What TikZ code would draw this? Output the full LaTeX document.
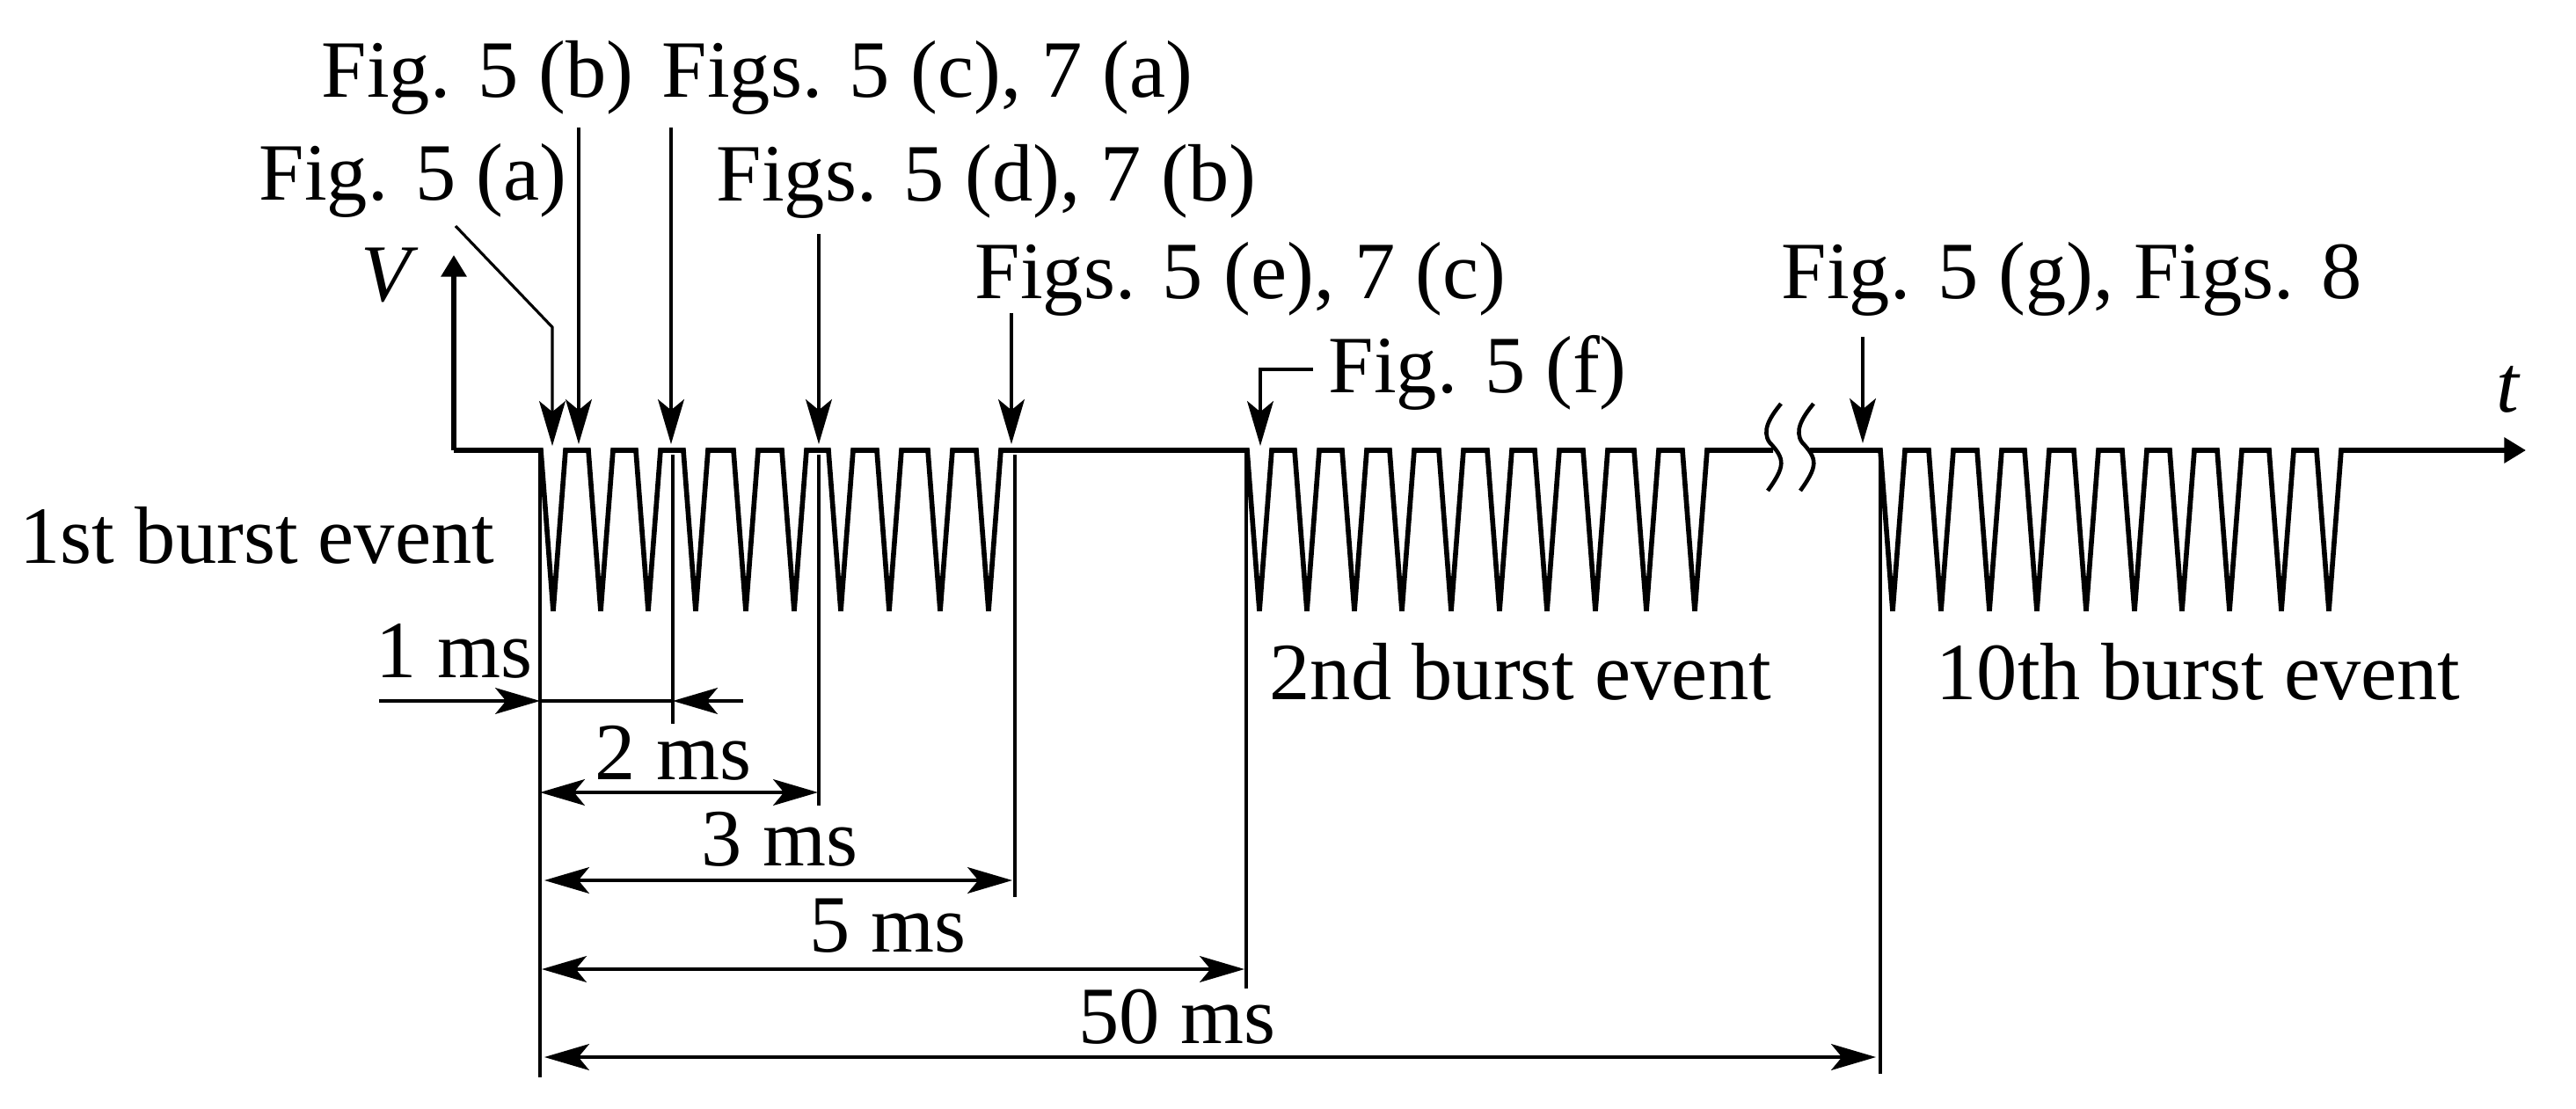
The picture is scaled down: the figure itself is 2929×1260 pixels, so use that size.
\documentclass[tikz,border=0pt]{standalone}
\usepackage{fontspec}
\setmainfont{Liberation Serif}
\usetikzlibrary{arrows.meta,calc}
\begin{document}
\begin{tikzpicture}[x=0.01cm,y=-0.01cm]
	\tikzstyle{every node} = [inner sep=0pt, anchor=base west, font=\fontsize{26.3}{30}\selectfont]
	\tikzstyle{signal} = [line width=1.6pt]
	\tikzstyle{thin line} = [line width=0.9pt]
	\tikzstyle{pointer} = [thin line, -{Stealth[length=14.5pt,width=8.5pt,inset=3.5pt]}]
	\tikzstyle{span} = [thin line, {Stealth[length=14.5pt,width=8.5pt,inset=3.5pt]}-{Stealth[length=14.5pt,width=8.5pt,inset=3.5pt]}]
	\path [use as bounding box] (0,0) rectangle (2929,1260);
	% signal
	\coordinate (O) at (516,512);
	\coordinate (Vtop) at (516,290);
	\coordinate (tEnd) at (2872,512);
	\draw[signal, -{Triangle[length=7pt,width=8pt]}] (O) -- (Vtop);
	\draw[signal, miter limit=8] (O)
		foreach \x in {629,683,737,791,848,903,956,1011,1069,1124,
			1432,1486,1540,1594,1650,1705,1759,1814,1872,1927} { -- (\x-14,512) -- (\x,695) -- (\x+14,512) }
		-- (2016,512);
	\draw[signal, miter limit=8, -{Triangle[length=7pt,width=8pt]}] (2058,512)
		foreach \x in {2152,2207,2262,2316,2372,2427,2481,2535,2594,2648} { -- (\x-14,512) -- (\x,695) -- (\x+14,512) }
		-- (tEnd);
	\draw[line width=1.3pt] (2025,459) .. controls (2012,475) and (2003,490) .. (2012,503)
		.. controls (2030,522) and (2030,530) .. (2010,558);
	\draw[line width=1.3pt] (2062,459) .. controls (2049,475) and (2040,490) .. (2049,503)
		.. controls (2067,522) and (2067,530) .. (2047,558);
	\node (V) at (410,342) {\textit{V}};
	\node (t) at (2838,468) {\textit{t}};
	% figure labels
	\node (figa) at (294,227) {Fig. 5 (a)};
	\node (figb) at (365,110) {Fig. 5 (b)};
	\node (figc) at (752,110) {Figs. 5 (c), 7 (a)};
	\node (figd) at (814,228) {Figs. 5 (d), 7 (b)};
	\node (fige) at (1108,339) {Figs. 5 (e), 7 (c)};
	\node (figf) at (1510,446) {Fig. 5 (f)};
	\node (figg) at (2025,339) {Fig. 5 (g), Figs. 8};
	\coordinate (aTop) at (518,257);
	\coordinate (aBend) at (628,372);
	\coordinate (aTip) at (628,507);
	\coordinate (bTop) at (658,145);
	\coordinate (bTip) at (658,505);
	\coordinate (cTop) at (763,145);
	\coordinate (cTip) at (763,505);
	\coordinate (dTop) at (931,266);
	\coordinate (dTip) at (931,505);
	\coordinate (eTop) at (1150,356);
	\coordinate (eTip) at (1150,505);
	\coordinate (fStart) at (1493,420);
	\coordinate (fBend) at (1433,420);
	\coordinate (fTip) at (1433,507);
	\coordinate (gTop) at (2118,383);
	\coordinate (gTip) at (2118,504);
	\draw[pointer] (aTop) -- (aBend) -- (aTip);
	\draw[pointer] (bTop) -- (bTip);
	\draw[pointer] (cTop) -- (cTip);
	\draw[pointer] (dTop) -- (dTip);
	\draw[pointer] (eTop) -- (eTip);
	\draw[pointer] (fStart) -- (fBend) -- (fTip);
	\draw[pointer] (gTop) -- (gTip);
	% burst names
	\node (burst1) at (22,640) {1st burst event};
	\node (burst2) at (1443,795) {2nd burst event};
	\node (burst10) at (2201,795) {10th burst event};
	% extension lines
	\coordinate (base) at (614,512);
	\coordinate (baseEnd) at (614,1225);
	\draw[thin line] (base) -- (baseEnd);
	\coordinate (oneTop) at (765,517);
	\coordinate (oneEnd) at (765,823);
	\draw[thin line] (oneTop) -- (oneEnd);
	\coordinate (twoTop) at (931,517);
	\coordinate (twoEnd) at (931,916);
	\draw[thin line] (twoTop) -- (twoEnd);
	\coordinate (threeTop) at (1154,517);
	\coordinate (threeEnd) at (1154,1020);
	\draw[thin line] (threeTop) -- (threeEnd);
	\coordinate (fiveTop) at (1417,512);
	\coordinate (fiveEnd) at (1417,1124);
	\draw[thin line] (fiveTop) -- (fiveEnd);
	\coordinate (fiftyTop) at (2138,512);
	\coordinate (fiftyEnd) at (2138,1221);
	\draw[thin line] (fiftyTop) -- (fiftyEnd);
	% spans
	\node (ms1) at (427,770) {1 ms};
	\node (ms2) at (676,886) {2 ms};
	\node (ms3) at (797,984) {3 ms};
	\node (ms5) at (920,1082) {5 ms};
	\node (ms50) at (1226,1186) {50 ms};
	\coordinate (oneL) at (431,797);
	\coordinate (oneA) at (614,797);
	\coordinate (oneB) at (765,797);
	\coordinate (oneR) at (845,797);
	\draw[pointer] (oneL) -- (oneA);
	\draw[thin line] (oneA) -- (oneB);
	\draw[pointer] (oneR) -- (oneB);
	\coordinate (twoA) at (614,901);
	\coordinate (twoB) at (930,901);
	\draw[span] (twoA) -- (twoB);
	\coordinate (threeA) at (619,1001);
	\coordinate (threeB) at (1151,1001);
	\draw[span] (threeA) -- (threeB);
	\coordinate (fiveA) at (616,1102);
	\coordinate (fiveB) at (1415,1102);
	\draw[span] (fiveA) -- (fiveB);
	\coordinate (fiftyA) at (619,1202);
	\coordinate (fiftyB) at (2133,1202);
	\draw[span] (fiftyA) -- (fiftyB);
\end{tikzpicture}
\end{document}
